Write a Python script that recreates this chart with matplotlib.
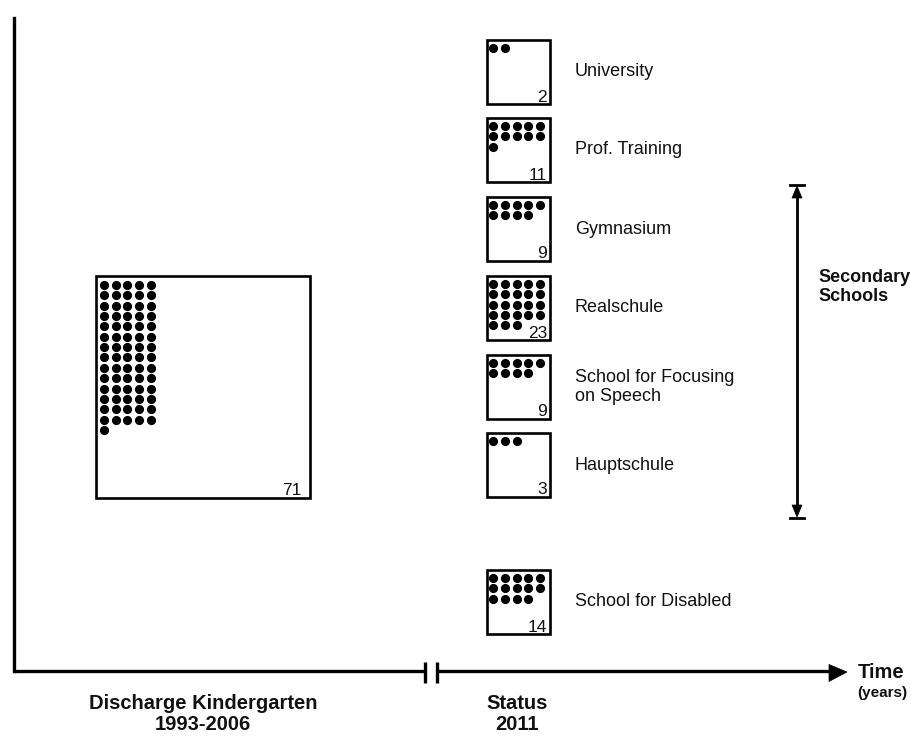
import matplotlib
matplotlib.use("Agg")
import matplotlib.pyplot as plt
from matplotlib.patches import Rectangle, Polygon

plt.rcParams['font.family'] = ['Liberation Sans', 'DejaVu Sans']

# ---- data ----
categories = ["University", "Prof. Training", "Gymnasium", "Realschule",
              "School for Focusing\non Speech", "Hauptschule", "School for Disabled"]
counts = [2, 11, 9, 23, 9, 3, 14]
discharge_total = 71
dots_per_row = 5
group_label = "Secondary\nSchools"
group_members = ["Gymnasium", "Hauptschule"]  # span of the bracket
left_label = "Discharge Kindergarten\n1993-2006"
right_label = "Status\n2011"
axis_label = "Time"
axis_unit = "(years)"

# ---- layout (pixels) ----
W, H = 912, 736
fig = plt.figure(figsize=(W / 100, H / 100), dpi=100)
ax = fig.add_axes([0, 0, 1, 1])
ax.set_xlim(0, W)
ax.set_ylim(H, 0)
ax.axis('off')

box_x, box_w, box_h = 487, 63, 64
box_tops = [40, 118, 197, 276, 355, 433, 570]
big_box = (96, 276, 214, 222)
col_step, row_step = 11.7, 10.35
dot_ms = 6.6


def dot_box(x, y, w, h, n, padx, pady, num_padx, num_pady):
    ax.add_patch(Rectangle((x, y), w, h, fill=False, lw=1.9, ec='black', zorder=2))
    xs, ys = [], []
    for i in range(n):
        r, c = divmod(i, dots_per_row)
        xs.append(x + padx + c * col_step)
        ys.append(y + pady + r * row_step)
    ax.plot(xs, ys, 'o', color='black', ms=dot_ms, mew=0, zorder=3)
    ax.text(x + w - num_padx, y + h - num_pady, str(n), ha='right', va='baseline',
            fontsize=12.5, color='#111111', zorder=4)


# big box
bx, by, bw, bh = big_box
dot_box(bx, by, bw, bh, discharge_total, 8, 9, 8, 3)

# small boxes
for cat, n, top in zip(categories, counts, box_tops):
    dot_box(box_x, top, box_w, box_h, n, 6.3, 7.8, 3.0, 2.5)
    ax.text(575, top + box_h / 2, cat, ha='left', va='center', fontsize=13,
            color='#111111', linespacing=1.15)

# axes lines
axis_y = 671
ax.plot([14, 14], [18, axis_y], color='black', lw=2.4, solid_capstyle='projecting')
ax.plot([14, 425], [axis_y, axis_y], color='black', lw=2.4, solid_capstyle='butt')
ax.plot([437, 832], [axis_y, axis_y], color='black', lw=2.4, solid_capstyle='butt')
for bxk in (425, 437):
    ax.plot([bxk, bxk], [662, 683], color='black', lw=2.4, solid_capstyle='butt')
ax.add_patch(Polygon([[829, 664.5], [847, 672], [829, 681.5]], closed=True,
                     fc='black', ec='black', lw=0.5))

ax.text(858, 673, axis_label, ha='left', va='center', fontsize=14.5, fontweight='bold',
        color='#111111')
ax.text(882, 693, axis_unit, ha='center', va='center', fontsize=11, fontweight='bold',
        color='#111111')

# secondary schools bracket
i0 = categories.index(group_members[0])
i1 = categories.index(group_members[1])
ytop = box_tops[i0] - 12
ybot = box_tops[i1] + box_h + 21
arr_x = 797
ax.plot([arr_x, arr_x], [ytop + 8, ybot - 8], color='black', lw=2)
ax.add_patch(Polygon([[arr_x - 5, ytop + 13], [arr_x, ytop + 1], [arr_x + 5, ytop + 13]],
                     closed=True, fc='black', ec='black', lw=0.5))
ax.add_patch(Polygon([[arr_x - 5, ybot - 13], [arr_x, ybot - 1], [arr_x + 5, ybot - 13]],
                     closed=True, fc='black', ec='black', lw=0.5))
ax.plot([arr_x - 7, arr_x + 7], [ytop, ytop], color='black', lw=2)
ax.plot([arr_x - 7, arr_x + 7], [ybot, ybot], color='black', lw=2)
ax.text(818, 287, group_label, ha='left', va='center', fontsize=13,
        fontweight='bold', color='#111111', linespacing=1.1)

# bottom labels
ax.text(bx + bw / 2, 714, left_label, ha='center', va='center', fontsize=14.5,
        fontweight='bold', color='#111111', linespacing=1.15)
ax.text(box_x + box_w / 2 - 1, 714, right_label, ha='center', va='center', fontsize=14.5,
        fontweight='bold', color='#111111', linespacing=1.15)

fig.savefig('out.png', dpi=100)
